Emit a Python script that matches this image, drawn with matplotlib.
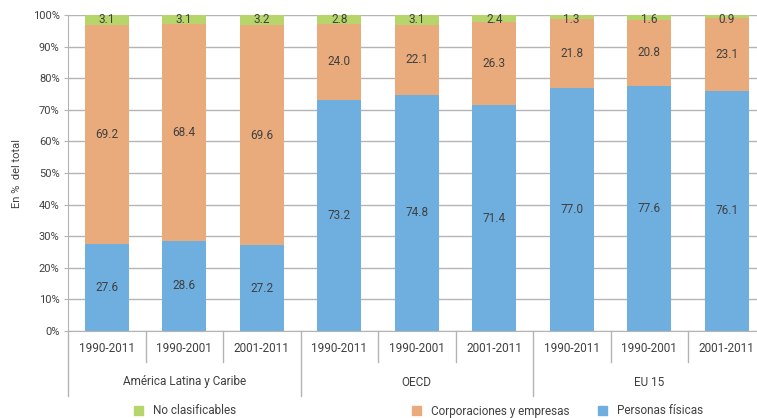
import matplotlib.pyplot as plt
import matplotlib.lines as mlines

plt.rcParams['font.family'] = ['Liberation Sans Narrow', 'Roboto', 'DejaVu Sans']

groups = ['América Latina y Caribe', 'OECD', 'EU 15']
periods = ['1990-2011', '1990-2001', '2001-2011'] * 3
personas = [27.6, 28.6, 27.2, 73.2, 74.8, 71.4, 77.0, 77.6, 76.1]
corporaciones = [69.2, 68.4, 69.6, 24.0, 22.1, 26.3, 21.8, 20.8, 23.1]
no_clasif = [3.1, 3.1, 3.2, 2.8, 3.1, 2.4, 1.3, 1.6, 0.9]

c_blue = '#6fafe0'
c_orange = '#e9ab7b'
c_green = '#b6d66b'
grid_c = '#b4b4b4'
txt_c = '#404040'

fig = plt.figure(figsize=(7.57, 4.18), dpi=100)
ax = fig.add_axes([68 / 757, 1 - 331 / 418, 1 - 68 / 757, 316 / 418])

x = list(range(len(periods)))
w = 0.57
bottom2 = [p + c for p, c in zip(personas, corporaciones)]
ax.bar(x, personas, w, color=c_blue, zorder=2)
ax.bar(x, corporaciones, w, bottom=personas, color=c_orange, zorder=2)
ax.bar(x, no_clasif, w, bottom=bottom2, color=c_green, zorder=2)

for i in x:
    ax.text(i, personas[i] / 2, f'{personas[i]:.1f}', ha='center', va='center', fontsize=8.5, color=txt_c)
    ax.text(i, personas[i] + corporaciones[i] / 2, f'{corporaciones[i]:.1f}', ha='center', va='center', fontsize=8.5, color=txt_c)
    ax.text(i, 98.6, f'{no_clasif[i]:.1f}', ha='center', va='center', fontsize=8.5, color=txt_c)

ax.set_xlim(-0.5, (757 - 68) / 77.5 - 0.5)
ax.set_ylim(0, 100)
ax.set_yticks(range(0, 101, 10))
ax.set_yticklabels([f'{v}%' for v in range(0, 101, 10)], fontsize=8, color=txt_c)
ax.yaxis.grid(True, color=grid_c, linewidth=1, zorder=0)
ax.tick_params(axis='y', length=3, color=grid_c, pad=3)
ax.set_xticks([])
for s in ['top', 'right']:
    ax.spines[s].set_visible(False)
ax.spines['left'].set_color(grid_c)
ax.spines['bottom'].set_color(grid_c)
ax.set_ylabel('En %  del total', fontsize=8, color=txt_c, labelpad=8)

# category axis below the bars
tr = ax.get_xaxis_transform()
def yfrac(py):
    return (331 - py) / 316

for i in x:
    ax.text(i, yfrac(348), periods[i], ha='center', va='center', fontsize=8.5, color=txt_c, transform=tr, clip_on=False)
for b in range(0, 10):
    xb = b - 0.5
    low = 396 if b % 3 == 0 else 362
    ax.add_line(mlines.Line2D([xb, xb], [0, yfrac(low)], color=grid_c, linewidth=1, transform=tr, clip_on=False))
for g, name in enumerate(groups):
    ax.text(3 * g + 1, yfrac(382), name, ha='center', va='center', fontsize=8.5, color=txt_c, transform=tr, clip_on=False)

# legend
leg_colors = [c_green, c_orange, c_blue]
labels = ['No clasificables', 'Corporaciones y empresas', 'Personas físicas']
for col, l, px in zip(leg_colors, labels, [138, 416, 602]):
    fig.patches.append(plt.Rectangle((px / 757 - 4 / 757, 1 - 415 / 418), 9 / 757, 9 / 418,
                                     color=col, transform=fig.transFigure))
    fig.text(px / 757 + 15 / 757, 1 - 411 / 418, l, ha='left', va='center', fontsize=8.5, color=txt_c)

fig.savefig('out.png', dpi=100)
